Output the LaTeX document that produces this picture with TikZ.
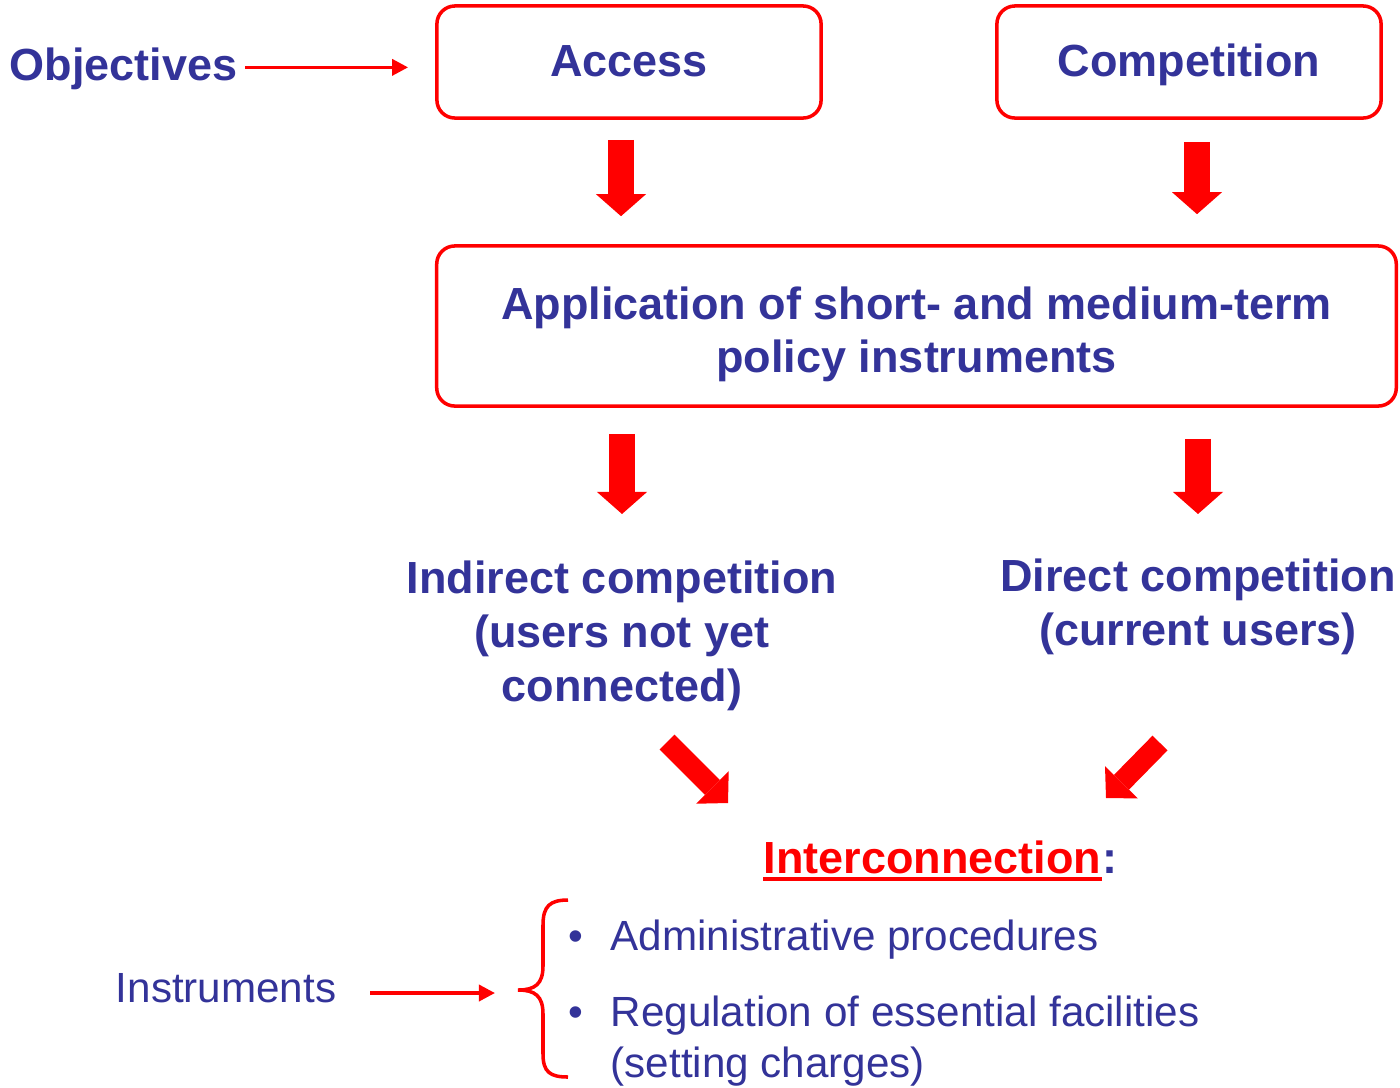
\documentclass[tikz,border=0pt]{standalone}
\usepackage{fontspec}
\setmainfont{Liberation Sans}
\usetikzlibrary{arrows.meta}
\definecolor{txtblue}{HTML}{333399}
\definecolor{boxred}{HTML}{FF0000}

\tikzset{
  headtext/.style={text=txtblue, font=\fontsize{12.8}{15.4}\selectfont\bfseries, align=center, inner sep=0pt},
  itemtext/.style={text=txtblue, font=\fontsize{12}{14.5}\selectfont, inner sep=0pt},
  goalbox/.style={draw=boxred, line width=1pt, rounded corners=0.18cm, text=txtblue,
    font=\fontsize{12.8}{15.1}\selectfont\bfseries, align=center},
  smallbox/.style={goalbox, minimum width=3.84cm, minimum height=1.12cm, text height=0.33cm, text depth=0.05cm},
  bigarrow/.style={boxred, line width=0.26cm, -{Triangle[length=0.22cm,width=0.5cm,line width=0pt]}},
  diagarrow/.style={boxred, line width=0.21cm, -{Triangle[length=0.22cm,width=0.46cm,line width=0pt]}},
  pointer/.style={boxred, line width=1pt, -{Triangle[length=0.16cm,width=0.16cm]}}
}

\begin{document}
\begin{tikzpicture}[x=0.01cm, y=-0.01cm]
  \useasboundingbox (0,0) rectangle (1400,1087);

  % Boxes
  \node[smallbox] (access) at (629,62) {Access};
  \node[smallbox] (comp) at (1189,62) {Competition};
  \node[goalbox, minimum width=9.59cm, minimum height=1.6cm] (appl) at (916.5,326)
    {\rule{0pt}{0.49cm}Application of short- and medium-term\\policy instruments};

  % Objectives
  \node[headtext, anchor=base east] (obj) at (238,80) {Objectives};
  \draw[pointer, shorten <=0.07cm, shorten >=0.27cm] ([yshift=0.01cm]obj.east) -- ([yshift=0.01cm]obj.east -| access.west);

  % Big arrows down
  \draw[bigarrow, shorten <=0.2cm, shorten >=0.28cm] ([xshift=-0.08cm]access.south) -- ([xshift=-0.08cm]access.south |- appl.north);
  \draw[bigarrow, shorten <=0.22cm, shorten >=0.3cm] ([xshift=0.08cm]comp.south) -- ([xshift=0.08cm]comp.south |- appl.north);

  % Kinds of competition
  \node[headtext, anchor=north] (ind) at (622,560) {Indirect competition\\(users not yet\\connected)};
  \node[headtext, anchor=north] (dir) at (1198,558) {Direct competition\\(current users)};
  \draw[bigarrow, shorten <=0.26cm, shorten >=0.46cm] (appl.south -| ind.north) -- (ind.north);
  \draw[bigarrow, shorten <=0.31cm, shorten >=0.44cm] (appl.south -| dir.north) -- (dir.north);

  % Diagonal arrows
  \coordinate (dl) at (667,742);
  \coordinate (dlt) at (728,803);
  \coordinate (dr) at (1160,743);
  \coordinate (drt) at (1106,798);
  \draw[diagarrow] (dl) -- (dlt);
  \draw[diagarrow] (dr) -- (drt);

  % Interconnection
  \node[headtext, text=boxred, anchor=base west] (inter) at (763,873) {Interconnection};
  \node[headtext, anchor=base west] (colon) at (inter.base east) {:};
  \draw[boxred, line width=1.2pt] ([yshift=-0.06cm]inter.base west) -- ([yshift=-0.06cm]inter.base east);

  % Instruments
  \node[itemtext, anchor=base east] (instr) at (337,1002) {Instruments};
  \coordinate (brace) at (518,993);
  \draw[pointer, shorten <=0.33cm, shorten >=0.23cm] (instr.east |- brace) -- (brace);
  \draw[boxred, line width=1pt] (568,900) .. controls (550,900) and (543,906) .. (543,925)
    -- (543,966) .. controls (543,984) and (535,990) .. (518,990)
    .. controls (535,990) and (543,996) .. (543,1014)
    -- (543,1054) .. controls (543,1072) and (550,1077) .. (568,1077);

  % Items
  \node[itemtext, anchor=base] (dot1) at (576,950) {•};
  \node[itemtext, anchor=base west] (item1) at (610,950) {Administrative procedures};
  \node[itemtext, anchor=base] (dot2) at (576,1026) {•};
  \node[itemtext, anchor=north west, align=left] (item2) at (610,995)
    {Regulation of essential facilities\\(setting charges)};
\end{tikzpicture}
\end{document}
